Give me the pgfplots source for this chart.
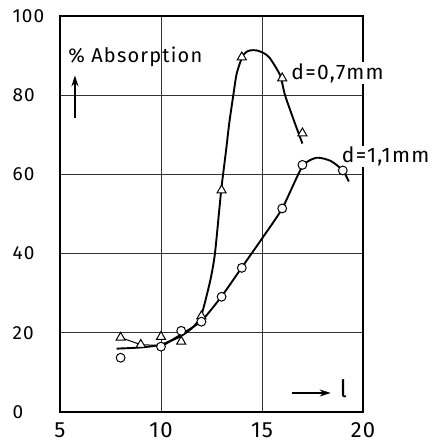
\documentclass[border=0pt]{standalone}
\usepackage{pgfplots}
\pgfplotsset{compat=1.18}
\usetikzlibrary{arrows.meta}
\usepackage{fontspec}
\setmainfont{Fira Sans}
\newfontfamily\lblfont[LetterSpace=6]{Fira Sans}

\begin{document}
\begin{tikzpicture}
\begin{axis}[
  scale only axis, width=303pt, height=396pt,
  xmin=5, xmax=20, ymin=0, ymax=100,
  xtick={5,10,15,20}, ytick={0,20,...,100},
  grid=major, major grid style={black!80, line width=0.7pt},
  major tick length=0pt,
  axis line style={line width=2.8pt},
  /pgf/number format/assume math mode=true,
  xticklabel style={font=\lblfont\fontsize{22}{22}\selectfont, yshift=-7pt},
  yticklabel style={font=\lblfont\fontsize{19}{19}\selectfont, anchor=west, xshift=-51pt},
  clip=false,
]
% d = 0.7 mm, fitted curve
\addplot[line width=1.9pt, smooth, tension=0.4] coordinates {
  (7.8,16.0) (9,16.3) (10,17.0) (11,19.2) (11.6,21.5) (12,24.5)
  (12.43,33) (12.67,40) (12.98,56) (13.22,66) (13.38,73) (13.58,80)
  (13.75,85.5) (14.07,90.2) (14.4,91.3) (14.74,91.3) (15.1,90.6) (15.4,89.3)
  (15.9,85.0) (16.14,80) (16.63,72.9) (17.0,67.8)};
% thin connecting line at the low end
\addplot[line width=1pt] coordinates {(8,18.8) (9,17.0) (10,16.8)};
% d = 1.1 mm, fitted curve
\addplot[line width=1.9pt, smooth, tension=0.4] coordinates {
  (10,16.5) (11,19.6) (12,23.0) (13,29.2) (14,36.5) (15,43.8) (16,51.4)
  (17,62.0) (17.7,64.2) (18.4,63.4) (19,61.0) (19.3,58.2)};
% measured points
\addplot[only marks, mark=triangle*, mark size=5.2pt,
  mark options={fill=white, draw=black, line width=1pt}] coordinates {
  (8,18.8) (9,17.0) (10,19.0) (11,17.8) (12,24.2) (13,56.0) (14,89.6) (16,84.3) (17,70.4)};
\addplot[only marks, mark=*, mark size=4.4pt,
  mark options={fill=white, draw=black, line width=1pt}] coordinates {
  (8,13.7) (10,16.5) (11,20.5) (12,22.8) (13,29.1) (14,36.4) (16,51.4) (17,62.4) (19,61.0)};
% annotations
\node[anchor=west, inner sep=0pt, font=\lblfont\fontsize{20}{20}\selectfont] at (axis cs:5.4,89.6) {\% Absorption};
\draw[-{Stealth[length=11pt,width=7pt]}, line width=1.4pt] (axis cs:5.74,74.2) -- (axis cs:5.74,85);
\node[anchor=west, inner sep=1pt, fill=white, font=\lblfont\fontsize{21}{21}\selectfont] at (axis cs:16.4,85.6) {d=0,7mm};
\node[anchor=west, inner sep=1pt, fill=white, font=\lblfont\fontsize{21}{21}\selectfont] at (axis cs:18.9,64.6) {d=1,1mm};
\draw[-{Stealth[length=11pt,width=7pt]}, line width=1.4pt] (axis cs:16.5,4.8) -- (axis cs:18.4,4.8);
\node[anchor=west, inner sep=0pt, font=\lblfont\fontsize{24}{24}\selectfont] at (axis cs:18.85,5.8) {l};
\end{axis}
\pgfresetboundingbox
\path (-60pt,-33pt) rectangle (376pt,412pt);
\end{tikzpicture}
\end{document}
